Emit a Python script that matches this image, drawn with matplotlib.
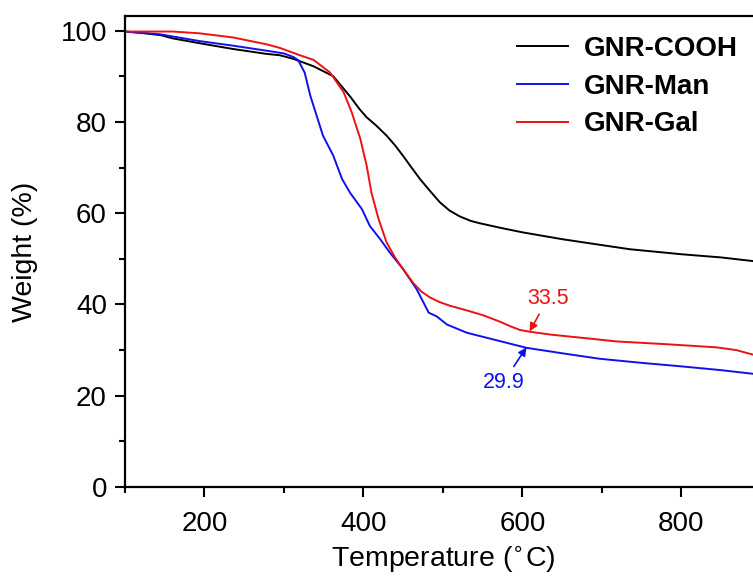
import matplotlib
matplotlib.use("Agg")
import matplotlib.pyplot as plt
from matplotlib.ticker import MultipleLocator

plt.rcParams['font.family'] = ['Liberation Sans', 'DejaVu Sans']

# TGA curves
t_cooh = [100, 120, 145, 160, 195, 235, 278, 295, 312, 337, 362, 383, 395, 404, 416, 429,
          440, 450, 460, 471, 484, 496, 508, 521, 535, 546, 572, 600, 650, 700, 735, 800,
          850, 890]
w_cooh = [99.8, 99.5, 99, 98.3, 97.2, 96, 94.9, 94.6, 93.8, 92.2, 90, 85.6, 82.8, 81, 79.2,
          77, 74.8, 72.5, 70.1, 67.5, 64.8, 62.4, 60.6, 59.3, 58.3, 57.8, 56.8, 55.8, 54.3,
          53, 52.1, 51, 50.3, 49.5]

t_man = [100, 144, 194, 236, 278, 300, 312, 318, 326, 333, 341, 349, 362, 373, 383, 398,
         408, 421, 433, 450, 467, 482, 492, 505, 530, 555, 580, 605, 650, 697, 750, 802,
         850, 890]
w_man = [99.8, 99.2, 97.7, 96.7, 95.6, 95, 94.2, 93.5, 90.8, 85.8, 81.4, 77, 72.6, 67.5,
         64.5, 60.9, 57.2, 54.3, 51.4, 47.7, 43.3, 38.2, 37.4, 35.6, 33.8, 32.7, 31.6, 30.5,
         29.3, 28.1, 27.2, 26.4, 25.6, 24.8]

t_gal = [100, 160, 194, 236, 278, 295, 320, 337, 358, 375, 385, 396, 404, 410, 419, 429,
         440, 450, 463, 473, 484, 496, 509, 530, 551, 572, 585, 597, 610, 635, 680, 718,
         780, 844, 869, 890]
w_gal = [99.8, 99.8, 99.4, 98.5, 97.0, 96.2, 94.6, 93.6, 90.8, 86.5, 82.2, 76.3, 70.4,
         64.5, 58.7, 53.6, 50.2, 47.7, 44.6, 42.8, 41.5, 40.5, 39.7, 38.7, 37.6, 36.2, 35.2,
         34.4, 34.0, 33.4, 32.6, 31.9, 31.3, 30.6, 30.0, 29.0]

labels = ['GNR-COOH', 'GNR-Man', 'GNR-Gal']
colors = ['black', '#1010ee', '#ee1111']

# residual mass annotations: (point, text position, label)
ann_gal = ((609, 34.1), (632, 41.3), '33.5')
ann_man = ((605, 30.6), (576, 23.0), '29.9')

fig = plt.figure(figsize=(7.53, 5.76), dpi=100)
ax = fig.add_axes([0.166, 0.1545, 0.8446, 0.8177])

ax.plot(t_cooh, w_cooh, color=colors[0], lw=1.4, label=labels[0])
ax.plot(t_man, w_man, color=colors[1], lw=1.4, label=labels[1])
ax.plot(t_gal, w_gal, color=colors[2], lw=1.4, label=labels[2])

for (xy, xyt, txt), c in [(ann_gal, colors[2]), (ann_man, colors[1])]:
    ax.annotate(txt, xy=xy, xytext=xyt, ha='center', va='center', color=c, fontsize=15.5,
                arrowprops=dict(arrowstyle='-|>', color=c, lw=1.2, mutation_scale=12,
                                shrinkA=2, shrinkB=0))

ax.set_xlim(100, 900)
ax.set_ylim(0, 103.2)
ax.xaxis.set_major_locator(MultipleLocator(200))
ax.xaxis.set_minor_locator(MultipleLocator(100))
ax.yaxis.set_major_locator(MultipleLocator(20))
ax.yaxis.set_minor_locator(MultipleLocator(10))
ax.tick_params(which='both', direction='out', width=1.5, labelsize=20)
ax.tick_params(which='major', length=7)
ax.tick_params(which='minor', length=4.3)
ax.tick_params(axis='x', pad=10)
ax.tick_params(axis='y', pad=6)
for s in ax.spines.values():
    s.set_linewidth(1.6)

ax.set_xlabel(r'Temperature ($^{\circ}$C)', fontsize=20.5, labelpad=6)
ax.set_ylabel('Weight (%)', fontsize=20.5, labelpad=16)

leg = ax.legend(loc='upper left', bbox_to_anchor=(517 / 753, 1 - 36 / 576),
                bbox_transform=fig.transFigure, frameon=False, borderpad=0,
                borderaxespad=0, handlelength=1.85, handletextpad=0.55, labelspacing=0.42,
                prop={'weight': 'bold', 'size': 20})

fig.savefig('out.png', dpi=100)
